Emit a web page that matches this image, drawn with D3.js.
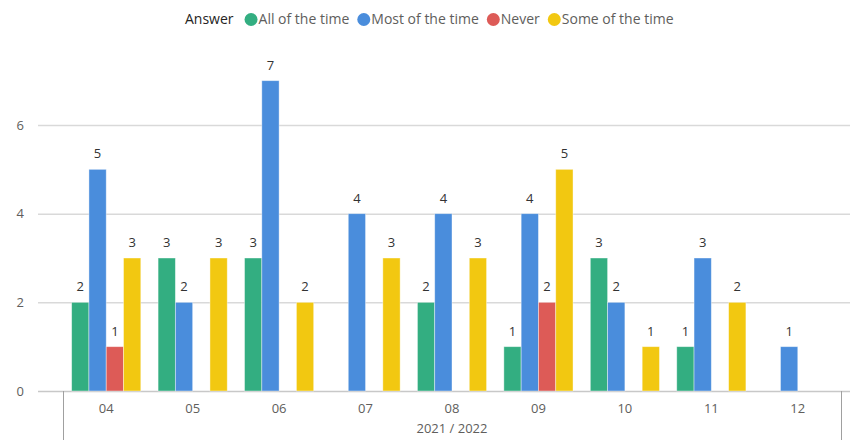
<!DOCTYPE html>
<html>
<head>
<meta charset="utf-8">
<script src="https://cdn.jsdelivr.net/npm/d3@7"></script>
<style>
  body { margin: 0; background: #fff; }
  text { font-family: "Open Sans", "Noto Sans", sans-serif; }
</style>
</head>
<body>
<svg id="chart" width="850" height="440"></svg>
<script>
// DATA -----------------------------------------------------------------------
var months = ["04", "05", "06", "07", "08", "09", "10", "11", "12"];
var answers = ["All of the time", "Most of the time", "Never", "Some of the time"];
var colors = ["#33AE81", "#4A8DDC", "#DD5B57", "#F2C811"];

// counts per month, null = no bar
var allOfTheTime  = [2, 3, 3, null, 2, 1, 3, 1, null];
var mostOfTheTime = [5, 2, 7, 4, 4, 4, 2, 3, 1];
var never         = [1, null, null, null, null, 2, null, null, null];
var someOfTheTime = [3, 3, 2, 3, 3, 5, 1, 2, null];

var yTicks = [0, 2, 4, 6];
var xTitle = "2021 / 2022";
var legendTitle = "Answer";

var series = [allOfTheTime, mostOfTheTime, never, someOfTheTime];

// SCALES ---------------------------------------------------------------------
var svg = d3.select("#chart");

var x0 = d3.scaleBand()
  .domain(months)
  .range([63, 841]);

var x1 = d3.scaleBand()
  .domain(answers)
  .range([0, x0.bandwidth()])
  .paddingOuter(0.5);

var y = d3.scaleLinear()
  .domain([0, 6])
  .range([391, 125]);

// GRID -----------------------------------------------------------------------
svg.append("g")
  .selectAll("line")
  .data(yTicks)
  .enter().append("line")
  .attr("x1", 38)
  .attr("x2", 850)
  .attr("y1", function(d) { return y(d) + 0.5; })
  .attr("y2", function(d) { return y(d) + 0.5; })
  .attr("stroke", function(d) { return d === 0 ? "#c8c8c8" : "#d9d9d9"; })
  .attr("stroke-width", 1.5);

svg.append("g")
  .selectAll("text")
  .data(yTicks)
  .enter().append("text")
  .attr("x", 24)
  .attr("y", function(d) { return y(d); })
  .attr("dy", "0.35em")
  .attr("text-anchor", "end")
  .attr("font-size", 13)
  .attr("fill", "#605e5c")
  .text(function(d) { return d; });

// X AXIS ---------------------------------------------------------------------
[63, 841].forEach(function(xx) {
  svg.append("line")
    .attr("x1", xx + 0.5).attr("x2", xx + 0.5)
    .attr("y1", 391).attr("y2", 440)
    .attr("stroke", "#a0a0a0")
    .attr("stroke-width", 1);
});

svg.append("g")
  .selectAll("text")
  .data(months)
  .enter().append("text")
  .attr("x", function(d) { return x0(d) + x0.bandwidth() / 2; })
  .attr("y", 413)
  .attr("text-anchor", "middle")
  .attr("font-size", 13)
  .attr("fill", "#605e5c")
  .text(function(d) { return d; });

svg.append("text")
  .attr("x", (63 + 841) / 2)
  .attr("y", 433)
  .attr("text-anchor", "middle")
  .attr("font-size", 13)
  .attr("fill", "#605e5c")
  .text(xTitle);

// BARS -----------------------------------------------------------------------
var cells = [];
months.forEach(function(m, i) {
  answers.forEach(function(a, j) {
    if (series[j][i] !== null) {
      cells.push({ month: m, answer: a, value: series[j][i], color: colors[j] });
    }
  });
});

var groups = svg.append("g")
  .selectAll(".bar")
  .data(cells)
  .enter().append("g")
  .attr("class", "bar");

groups.append("rect")
  .attr("x", function(d) { return x0(d.month) + x1(d.answer); })
  .attr("y", function(d) { return y(d.value); })
  .attr("width", x1.bandwidth())
  .attr("height", function(d) { return y(0) - y(d.value); })
  .attr("fill", function(d) { return d.color; })
  .attr("stroke", "#ffffff")
  .attr("stroke-opacity", 0.5)
  .attr("stroke-width", 0.8);

groups.append("text")
  .attr("x", function(d) { return x0(d.month) + x1(d.answer) + x1.bandwidth() / 2; })
  .attr("y", function(d) { return y(d.value) - 11; })
  .attr("text-anchor", "middle")
  .attr("font-size", 13)
  .attr("fill", "#333333")
  .text(function(d) { return d.value; });

// LEGEND ---------------------------------------------------------------------
var legend = svg.append("g").attr("transform", "translate(0,19.5)");

var lx = 185;
var title = legend.append("text")
  .attr("x", lx)
  .attr("dy", "0.35em")
  .attr("font-size", 14)
  .attr("fill", "#252423")
  .text(legendTitle);
lx += title.node().getComputedTextLength() + 11;

answers.forEach(function(a, j) {
  legend.append("circle")
    .attr("cx", lx + 6.5)
    .attr("cy", 0)
    .attr("r", 6.5)
    .attr("fill", colors[j]);
  var t = legend.append("text")
    .attr("x", lx + 14)
    .attr("dy", "0.35em")
    .attr("font-size", 14)
    .attr("fill", "#605e5c")
    .text(a);
  lx += 14 + t.node().getComputedTextLength() + 8;
});
</script>
</body>
</html>
